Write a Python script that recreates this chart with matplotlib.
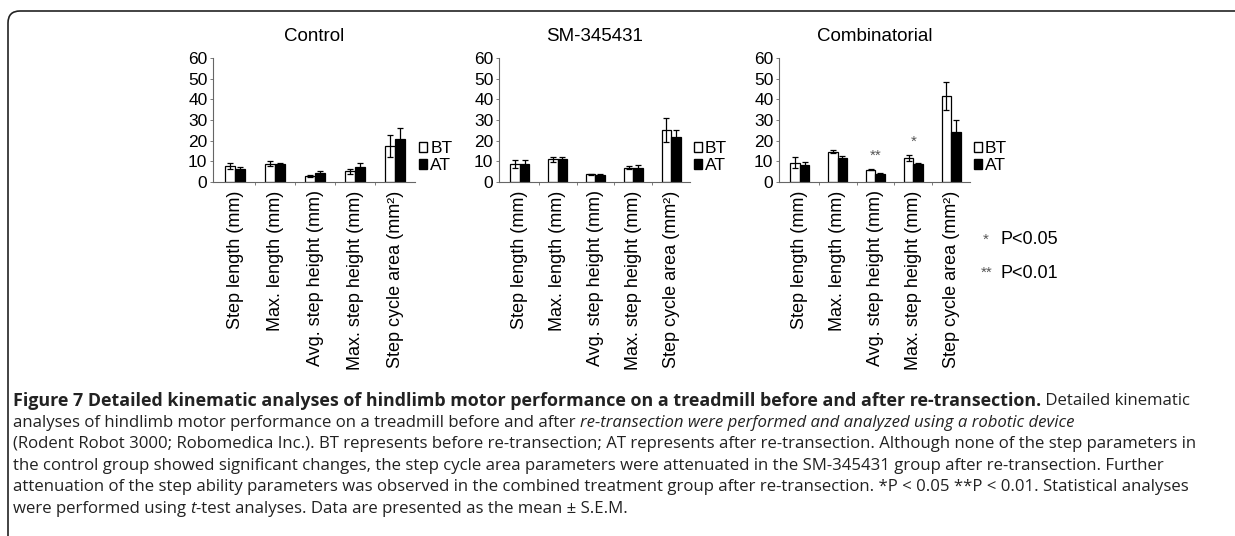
import numpy as np
import matplotlib
matplotlib.use("Agg")
import matplotlib.pyplot as plt
from matplotlib.patches import FancyBboxPatch, Patch
from matplotlib.transforms import IdentityTransform

# data (mean, S.E.M.)
categories = ["Step length (mm)", "Max. length (mm)", "Avg. step height (mm)",
              "Max. step height (mm)", "Step cycle area (mm²)"]
groups = ["Control", "SM-345431", "Combinatorial"]

control_bt = [7.8, 8.9, 2.9, 5.2, 17.5]
control_bt_err = [1.4, 1.3, 0.5, 1.3, 5.2]
control_at = [6.5, 8.6, 4.5, 7.3, 21.0]
control_at_err = [0.8, 0.8, 0.7, 1.9, 5.3]

sm_bt = [8.6, 10.9, 3.7, 7.0, 25.1]
sm_bt_err = [1.9, 1.3, 0.4, 0.8, 5.7]
sm_at = [8.6, 10.9, 3.4, 7.0, 21.9]
sm_at_err = [1.9, 1.3, 0.4, 1.1, 3.2]

comb_bt = [9.4, 14.6, 6.0, 11.7, 41.8]
comb_bt_err = [2.8, 0.8, 0.3, 1.3, 6.8]
comb_at = [8.4, 11.8, 4.1, 8.6, 24.3]
comb_at_err = [1.3, 0.6, 0.3, 0.5, 5.7]

control_sig = ["", "", "", "", ""]
sm_sig = ["", "", "", "", ""]
comb_sig = ["", "", "**", "*", ""]

plt.rcParams["font.family"] = ["Liberation Sans", "DejaVu Sans"]

W, H = 1235, 536
fig = plt.figure(figsize=(W / 100, H / 100), dpi=100)

# frame round the figure (only top and left edge are visible)
frame = FancyBboxPatch((8, -60), 1400, 536 - 11 + 60, boxstyle="round,pad=0,rounding_size=12",
                       transform=IdentityTransform(), facecolor="none",
                       edgecolor="#222222", linewidth=1.2)
fig.add_artist(frame)

# axes boxes in pixels: (left, right)
boxes = [(213, 415), (499, 690), (779, 970)]
y_top, y_bottom = 58, 182

series = [
    (control_bt, control_bt_err, control_at, control_at_err, control_sig),
    (sm_bt, sm_bt_err, sm_at, sm_at_err, sm_sig),
    (comb_bt, comb_bt_err, comb_at, comb_at_err, comb_sig),
]

x = np.arange(len(categories))
w = 0.25
for (x0, x1), name, (bt, bt_e, at, at_e, sig) in zip(boxes, groups, series):
    ax = fig.add_axes([x0 / W, 1 - y_bottom / H, (x1 - x0) / W, (y_bottom - y_top) / H])
    ax.bar(x - w / 2, bt, w, color="white", edgecolor="black", linewidth=0.9, zorder=2)
    ax.bar(x + w / 2, at, w, color="black", edgecolor="black", linewidth=0.9, zorder=2)
    ax.errorbar(x - w / 2, bt, yerr=bt_e, fmt="none", ecolor="black", elinewidth=0.9,
                capsize=2, capthick=0.9, zorder=3)
    ax.errorbar(x + w / 2, at, yerr=at_e, fmt="none", ecolor="black", elinewidth=0.9,
                capsize=2, capthick=0.9, zorder=3)
    for i, s in enumerate(sig):
        if s:
            top = max(bt[i] + bt_e[i], at[i] + at_e[i])
            ax.text(x[i], top + 6.5, s, ha="center", va="center", fontsize=11, color="#555555")

    ax.set_xlim(-0.55, 4.5)
    ax.set_ylim(0, 60)
    ax.set_yticks(range(0, 61, 10))
    ax.set_xticks(x, categories, rotation=90, fontsize=13)
    ax.set_xticks(x[:-1] + 0.5, minor=True)
    ax.tick_params(axis="x", which="major", length=0, pad=6)
    ax.tick_params(axis="x", which="minor", length=2, width=0.6, color="#666666")
    ax.tick_params(axis="y", length=2, width=0.6, color="#666666", pad=2, labelsize=12.5)
    for side in ["top", "right"]:
        ax.spines[side].set_visible(False)
    for side in ["left", "bottom"]:
        ax.spines[side].set_color("#666666")
        ax.spines[side].set_linewidth(0.8)
    ax.set_title(name, fontsize=13.5, pad=12)

    ax.legend(handles=[Patch(facecolor="white", edgecolor="black", label="BT"),
                       Patch(facecolor="black", edgecolor="black", label="AT")],
              loc="center left", bbox_to_anchor=(1.02, 0.20), frameon=False, fontsize=12.5,
              handlelength=0.45, handleheight=0.45, handletextpad=0.2, labelspacing=0.1,
              borderpad=0, borderaxespad=0)

# significance key
fig.text(983 / W, 1 - 240 / H, "*", fontsize=11, color="#555555", va="center")
fig.text(1001 / W, 1 - 240 / H, "P<0.05", fontsize=13, va="center")
fig.text(981 / W, 1 - 273 / H, "**", fontsize=11, color="#555555", va="center")
fig.text(1001 / W, 1 - 273 / H, "P<0.01", fontsize=13, va="center")

# caption, drawn run by run so bold / italic parts sit inline
caption = [
    [("Figure 7 Detailed kinematic analyses of hindlimb motor performance on a treadmill before and after re-transection.", "bold", "normal"),
     (" Detailed kinematic", "normal", "normal")],
    [("analyses of hindlimb motor performance on a treadmill before and after ", "normal", "normal"),
     ("re-transection were performed and analyzed using a robotic device", "normal", "italic")],
    [("(Rodent Robot 3000; Robomedica Inc.). BT represents before re-transection; AT represents after re-transection. Although none of the step parameters in", "normal", "normal")],
    [("the control group showed significant changes, the step cycle area parameters were attenuated in the SM-345431 group after re-transection. Further", "normal", "normal")],
    [("attenuation of the step ability parameters was observed in the combined treatment group after re-transection. *P < 0.05 **P < 0.01. Statistical analyses", "normal", "normal")],
    [("were performed using ", "normal", "normal"), ("t", "normal", "italic"),
     ("-test analyses. Data are presented as the mean ± S.E.M.", "normal", "normal")],
]

renderer = fig.canvas.get_renderer()
for k, runs in enumerate(caption):
    xp = 13
    yp = 401 + k * 21.6
    for s, weight, style in runs:
        size = 12.9 if weight == "bold" else 12.1
        t = fig.text(xp / W, 1 - yp / H, s, fontsize=size, family=["Open Sans", "DejaVu Sans"],
                     weight=weight, style=style, va="center", color="#222222")
        xp += t.get_window_extent(renderer=renderer).width

fig.savefig("out.png", dpi=100)
